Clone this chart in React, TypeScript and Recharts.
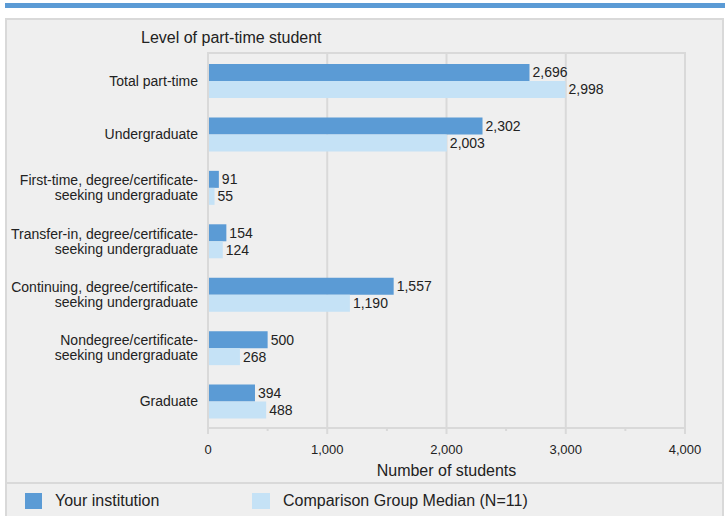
import { BarChart, Bar, XAxis, YAxis, CartesianGrid, LabelList } from "recharts";

// levels of part-time students, top to bottom
const levels = [
  "Total part-time",
  "Undergraduate",
  "First-time, degree/certificate-\nseeking undergraduate",
  "Transfer-in, degree/certificate-\nseeking undergraduate",
  "Continuing, degree/certificate-\nseeking undergraduate",
  "Nondegree/certificate-\nseeking undergraduate",
  "Graduate",
];
const yourInstitution = [2696, 2302, 91, 154, 1557, 500, 394];
const comparisonMedian = [2998, 2003, 55, 124, 1190, 268, 488];
const xTicks = [0, 500, 1000, 1500, 2000, 2500, 3000, 3500, 4000];
const gridValues = [1000, 2000, 3000, 4000];
const X_MAX = 4000;

const data = levels.map((level, i) => ({
  level,
  yours: yourInstitution[i],
  median: comparisonMedian[i],
}));

const DARK = "#5b9bd5";
const LIGHT = "#c5e2f6";
const GRID = "#d9d9d9";
const TEXT = "#222";
const FONT = "Arial, 'Liberation Sans', Helvetica, sans-serif";

const fmt = (v: number) => v.toLocaleString("en-US");

// gridlines only at the thousands, minor ticks get no line
const gridX = ({ xAxis, offset }: any) =>
  gridValues.map((v) =>
    typeof xAxis?.scale === "function" ? xAxis.scale(v) : offset.left + (v / X_MAX) * offset.width
  );

const XTick = ({ x, y, payload }: any) => {
  const major = payload.value % 1000 === 0;
  return (
    <g>
      <line x1={x} x2={x} y1={y} y2={y + (major ? 6 : 3)} stroke={GRID} strokeWidth={2} />
      {major && (
        <text x={x} y={y + 21} textAnchor="middle" dominantBaseline="central" fill={TEXT} fontSize={13} fontFamily={FONT}>
          {fmt(payload.value)}
        </text>
      )}
    </g>
  );
};

const YTick = ({ x, y, payload }: any) => {
  const lines = String(payload.value).split("\n");
  const step = 15;
  const start = -((lines.length - 1) * step) / 2;
  return (
    <text x={x} y={y} textAnchor="end" fill={TEXT} fontSize={14} fontFamily={FONT}>
      {lines.map((l, i) => (
        <tspan key={i} x={x} y={y + start + i * step} dominantBaseline="central">
          {l}
        </tspan>
      ))}
    </text>
  );
};

export default function App() {
  return (
    <div style={{ position: "absolute", left: 0, top: 0, width: 725, height: 516, background: "#fff", fontFamily: FONT, overflow: "hidden" }}>
      <div style={{ position: "absolute", left: 5, top: 3, width: 720, height: 5, background: DARK }} />
      <div
        style={{
          position: "absolute",
          left: 5,
          top: 18,
          width: 715,
          height: 510,
          background: "#efefef",
          border: `2px solid ${GRID}`,
        }}
      />
      <div style={{ position: "absolute", left: 5, top: 482, width: 719, height: 2, background: GRID }} />
      <div style={{ position: "absolute", left: 141, top: 28, fontSize: 16, color: TEXT, lineHeight: "20px", whiteSpace: "nowrap" }}>
        Level of part-time student
      </div>
      <div style={{ position: "absolute", left: 207, top: 52, width: 479, height: 2, background: GRID }} />
      <div style={{ position: "absolute", left: 0, top: 0 }}>
        <BarChart
          width={725}
          height={516}
          data={data}
          layout="vertical"
          margin={{ top: 54, right: 40, left: 8, bottom: 48 }}
          barSize={17}
          barGap={0}
        >
          <CartesianGrid horizontal={false} stroke={GRID} strokeWidth={2} verticalCoordinatesGenerator={gridX} />
          <XAxis
            type="number"
            domain={[0, X_MAX]}
            ticks={xTicks}
            interval={0}
            height={40}
            tickSize={0}
            tickMargin={0}
            tick={<XTick />}
            axisLine={{ stroke: GRID, strokeWidth: 2 }}
            label={{ value: "Number of students", position: "insideBottom", offset: -8, fill: TEXT, fontSize: 16, fontFamily: FONT }}
          />
          <YAxis
            type="category"
            dataKey="level"
            width={200}
            tickSize={0}
            tickMargin={10}
            tick={<YTick />}
            interval={0}
            axisLine={{ stroke: GRID, strokeWidth: 2 }}
          />
          <Bar dataKey="yours" name="Your institution" fill={DARK} isAnimationActive={false}>
            <LabelList dataKey="yours" position="right" offset={3} formatter={(v: any) => fmt(Number(v))} fill={TEXT} fontSize={14} fontFamily={FONT} />
          </Bar>
          <Bar dataKey="median" name="Comparison Group Median (N=11)" fill={LIGHT} isAnimationActive={false}>
            <LabelList dataKey="median" position="right" offset={3} formatter={(v: any) => fmt(Number(v))} fill={TEXT} fontSize={14} fontFamily={FONT} />
          </Bar>
        </BarChart>
      </div>
      <div style={{ position: "absolute", left: 25, top: 493, width: 17, height: 16, background: DARK }} />
      <div style={{ position: "absolute", left: 55, top: 491, fontSize: 16, color: TEXT, lineHeight: "20px" }}>Your institution</div>
      <div style={{ position: "absolute", left: 252, top: 493, width: 18, height: 16, background: LIGHT }} />
      <div style={{ position: "absolute", left: 283, top: 491, fontSize: 16, color: TEXT, lineHeight: "20px", whiteSpace: "nowrap" }}>
        Comparison Group Median (N=11)
      </div>
    </div>
  );
}
